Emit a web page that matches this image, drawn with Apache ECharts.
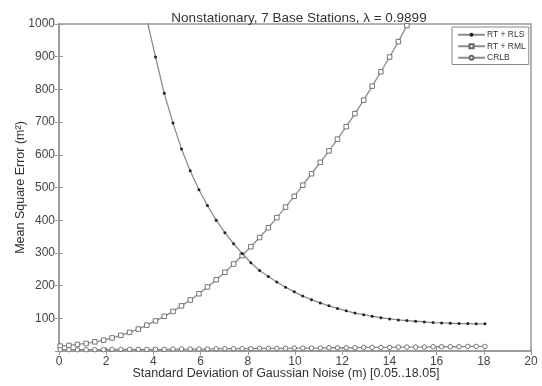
<!DOCTYPE html>
<html>
<head>
<meta charset="utf-8">
<script src="https://cdn.jsdelivr.net/npm/echarts@6/dist/echarts.min.js"></script>
<style>
  html, body { margin: 0; padding: 0; background: #fff; }
  #chart { width: 542px; height: 386px; }
</style>
</head>
<body>
<div id="chart"></div>
<script>
// Noise standard deviation sample points, 0.05 .. 18.05 (50 samples)
var sigma = [0.05, 0.42, 0.78, 1.15, 1.52, 1.89, 2.25, 2.62, 2.99, 3.36,
             3.72, 4.09, 4.46, 4.83, 5.19, 5.56, 5.93, 6.29, 6.66, 7.03,
             7.40, 7.76, 8.13, 8.50, 8.87, 9.23, 9.60, 9.97, 10.33, 10.70,
             11.07, 11.44, 11.80, 12.17, 12.54, 12.91, 13.27, 13.64, 14.01, 14.38,
             14.74, 15.11, 15.48, 15.85, 16.21, 16.58, 16.95, 17.32, 17.68, 18.05];

// Mean square error, RT + RLS
var mseRLS = [null, null, null, null, null, null, null, null, null, 1150,
              1015, 899, 788, 697, 618, 551, 493, 445, 400, 362,
              328, 298, 270, 246, 228, 211, 195, 181, 168, 157,
              147, 138, 130, 123, 116, 111, 106, 102, 98, 95,
              93, 91, 89, 87, 86, 85, 84, 84, 83, 83];

// Mean square error, RT + RML
var mseRML = [15, 17, 20, 23, 28, 33, 40, 48, 57, 67,
              79, 92, 106, 121, 138, 156, 175, 196, 218, 241,
              266, 292, 319, 347, 377, 408, 440, 473, 507, 542,
              577, 612, 648, 686, 726, 767, 810, 854, 899, 946,
              995, 1045, null, null, null, null, null, null, null, null];

// Cramer-Rao lower bound
var crlb = [4, 4, 4, 4, 4, 4, 5, 5, 5, 5,
            5, 5, 5, 6, 6, 6, 6, 6, 7, 7,
            7, 7, 7, 8, 8, 8, 8, 9, 9, 9,
            9, 10, 10, 10, 10, 11, 11, 11, 11, 12,
            12, 12, 12, 13, 13, 13, 13, 14, 14, 14];

var seriesNames = ['RT + RLS', 'RT + RML', 'CRLB'];
var xTicks = { min: 0, max: 20, step: 2 };
var yTicks = { min: 0, max: 1000, step: 100 };

function pairs(ys) {
  return sigma.map(function (x, i) { return [x, ys[i]]; });
}

var FONT = "'Liberation Sans', Arial, sans-serif";
var AXIS_GRAY = '#9a9a9a';
var LINE_GRAY = '#8c8c8c';

var chart = echarts.init(document.getElementById('chart'), null, { renderer: 'canvas' });

var axisLine = { show: true, lineStyle: { color: AXIS_GRAY, width: 1.5 } };
var tickIn = { show: true, inside: true, length: 4, lineStyle: { color: AXIS_GRAY, width: 1 } };
var plain = function (v) { return String(v); };

chart.setOption({
  animation: false,
  backgroundColor: '#ffffff',
  title: {
    text: 'Nonstationary, 7 Base Stations, \u03bb = 0.9899',
    left: 294,
    textAlign: 'center',
    top: 6,
    textStyle: { fontFamily: FONT, fontSize: 13.5, fontWeight: 'normal', color: '#333' }
  },
  legend: {
    data: seriesNames,
    orient: 'vertical',
    left: 452,
    top: 27,
    width: 76,
    itemWidth: 27,
    itemHeight: 5,
    itemGap: 2,
    padding: [3, 3, 2, 5],
    borderColor: '#888',
    borderWidth: 1,
    backgroundColor: '#fff',
    textStyle: { fontFamily: FONT, fontSize: 8.5, lineHeight: 9.5, color: '#333', padding: [0, 0, 0, -3] }
  },
  grid: {
    left: 59, right: 11, top: 24, bottom: 35,
    outerBoundsMode: 'none',
    containLabel: false,
    show: true, borderColor: AXIS_GRAY, borderWidth: 1.5, backgroundColor: '#fff'
  },
  xAxis: [{
    type: 'value',
    min: xTicks.min, max: xTicks.max, interval: xTicks.step,
    name: 'Standard Deviation of Gaussian Noise (m) [0.05..18.05]',
    nameLocation: 'middle',
    nameGap: 16,
    nameMoveOverlap: false,
    nameTextStyle: { fontFamily: FONT, fontSize: 12.5, color: '#333', padding: [0, 18, 0, 0] },
    axisLine: axisLine,
    axisTick: tickIn,
    splitLine: { show: false },
    axisLabel: { fontFamily: FONT, fontSize: 12, color: '#444', margin: 5, formatter: plain }
  }, {
    type: 'value', position: 'top',
    min: xTicks.min, max: xTicks.max, interval: xTicks.step,
    axisLine: axisLine, axisTick: tickIn,
    splitLine: { show: false }, axisLabel: { show: false }
  }],
  yAxis: [{
    type: 'value',
    min: yTicks.min, max: yTicks.max, interval: yTicks.step,
    name: 'Mean Square Error (m\u00b2)',
    nameLocation: 'middle',
    nameGap: 32,
    nameMoveOverlap: false,
    nameTextStyle: { fontFamily: FONT, fontSize: 12.5, color: '#333' },
    axisLine: axisLine,
    axisTick: tickIn,
    splitLine: { show: false },
    axisLabel: { fontFamily: FONT, fontSize: 12, color: '#444', margin: 4, showMinLabel: false, formatter: plain }
  }, {
    type: 'value', position: 'right',
    min: yTicks.min, max: yTicks.max, interval: yTicks.step,
    axisLine: axisLine, axisTick: tickIn,
    splitLine: { show: false }, axisLabel: { show: false }
  }],
  series: [{
    name: seriesNames[0],
    type: 'line',
    data: pairs(mseRLS),
    symbol: 'circle',
    symbolSize: 3,
    showAllSymbol: true,
    clip: true,
    lineStyle: { color: LINE_GRAY, width: 1.3 },
    itemStyle: { color: '#222', borderWidth: 0 },
    z: 3
  }, {
    name: seriesNames[1],
    type: 'line',
    data: pairs(mseRML),
    symbol: 'rect',
    symbolSize: 4.5,
    showAllSymbol: true,
    clip: true,
    lineStyle: { color: LINE_GRAY, width: 1.3 },
    itemStyle: { color: '#fff', borderColor: '#666', borderWidth: 0.9 },
    z: 2
  }, {
    name: seriesNames[2],
    type: 'line',
    data: pairs(crlb),
    symbol: 'circle',
    symbolSize: 4.5,
    showAllSymbol: true,
    clip: true,
    lineStyle: { color: LINE_GRAY, width: 1.3 },
    itemStyle: { color: '#fff', borderColor: '#666', borderWidth: 0.9 },
    z: 2
  }]
});
</script>
</body>
</html>
